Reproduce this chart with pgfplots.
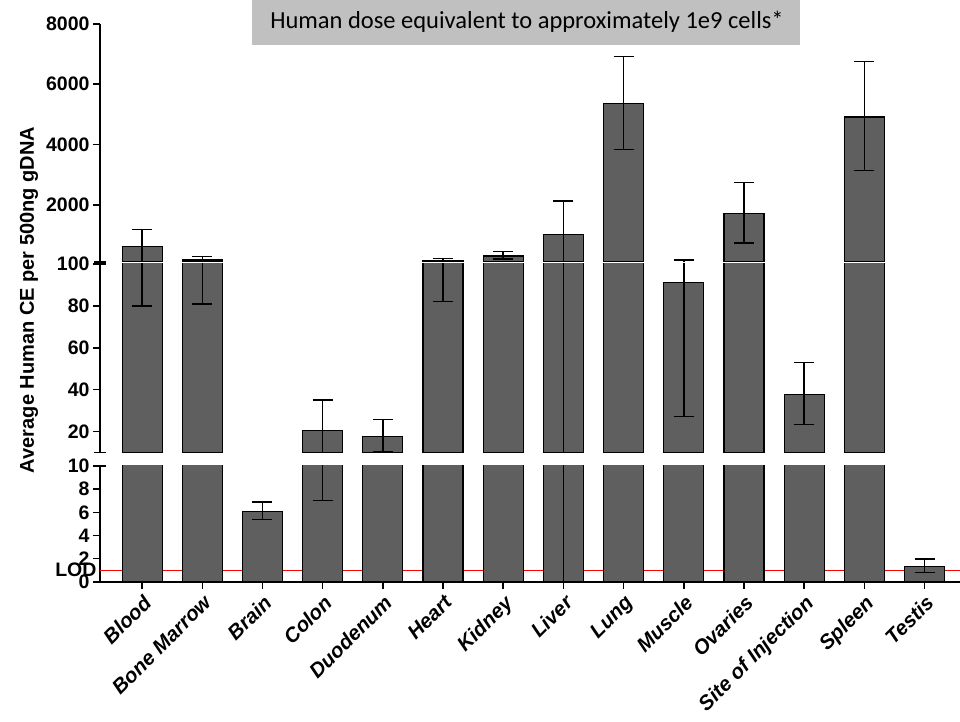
\documentclass[border=0pt]{standalone}
\usepackage{pgfplots}
\usepackage{pgfplotstable}
\pgfplotsset{compat=1.18}
\usepackage{fontspec}
\setmainfont{Liberation Sans}
\newfontfamily\carlito{Carlito}
\definecolor{barcol}{RGB}{95,95,95}
\definecolor{boxcol}{RGB}{192,192,192}

\pgfplotstableread{
x y ep em
0 608 578 528
1 166 110 85
2 6.1 0.8 0.7
3 20.5 14.6 13.5
4 17.8 8.0 7.6
5 143 80 61
6 300 140 100
7 1006 1119 1200
8 5369 1547 1528
9 91 75 63.7
10 1703 1043 972
11 37.7 15.2 14.3
12 4914 1836 1784
13 1.31 0.67 0.52
}\data

% \segplot{clamp lo}{clamp hi}{axis ymin}
\newcommand{\segplot}[3]{%
\addplot[barplot, restrict y to domain=#3:1e6] table[x=x,
  y expr={min(\thisrow{y},#2)}] {\data};
\addplot[errplot] table[x=x,
  y expr={min(max(\thisrow{y},#1),#2)},
  y error plus expr={min(max(\thisrow{y}+\thisrow{ep},#1),#2)-min(max(\thisrow{y},#1),#2)},
  y error minus expr={min(max(\thisrow{y},#1),#2)-min(max(\thisrow{y}-\thisrow{em},#1),#2)}] {\data};}

\pgfplotsset{
  brk/.style={
    width=860pt, scale only axis, anchor=south west,
    xmin=-0.7, xmax=13.59,
    axis y line*=left,
    axis line style={line width=1.6pt, black},
    tick style={line width=1.5pt, black},
    tick align=outside, major tick length=7pt,
    /pgf/number format/assume math mode=true,
    ticklabel style={font=\fontsize{19.5}{20}\selectfont\bfseries},
    clip=true,
  },
  barplot/.style={
    ybar, bar width=40pt, fill=barcol, draw=black, line width=1.2pt, forget plot,
  },
  errplot/.style={
    draw=none, mark=none, forget plot,
    error bars/.cd, y dir=both, y explicit,
    error bar style={draw=black, line width=1.5pt},
    error mark options={draw=black, rotate=90, mark size=10pt, line width=1.5pt},
  },
}

\begin{document}
\begin{tikzpicture}
\useasboundingbox (0pt,0pt) rectangle (960pt,722pt);

% bottom segment 0-10
\begin{axis}[brk, at={(100pt,140.2pt)}, height=115.8pt,
  ymin=0, ymax=10,
  axis x line*=bottom,
  xtick={0,...,13},
  xticklabels={Blood,Bone Marrow,Brain,Colon,Duodenum,Heart,Kidney,Liver,Lung,Muscle,Ovaries,Site of Injection,Spleen,Testis},
  xticklabel style={rotate=45, anchor=north east, font=\fontsize{20.5}{21}\selectfont\bfseries\itshape},
  ytick={0,2,4,6,8,10},
  yticklabels={0,2,4,6,8,10},
  extra y ticks={1},
  extra y tick labels={LOD},
  extra y tick style={major tick length=0pt},
]
\addplot[red, line width=1pt, forget plot] coordinates {(-0.7,1) (13.59,1)};
\segplot{-5}{15}{-1}
\end{axis}

% middle segment 10-100
\begin{axis}[brk, at={(100pt,269.5pt)}, height=188.5pt,
  ymin=10, ymax=100,
  axis x line=none,
  ytick={20,40,60,80,100},
  yticklabels={20,40,60,80,100},
  extra y ticks={10},
  extra y tick labels={},
  extra y tick style={tick align=center, major tick length=12pt},
]
\segplot{0}{200}{10}
\end{axis}

% top segment 100-8000
\begin{axis}[brk, at={(100pt,460pt)}, height=238pt,
  ymin=100, ymax=8000,
  axis x line=none,
  ytick={2000,4000,6000,8000},
  yticklabels={2000,4000,6000,8000},
  extra y ticks={100},
  extra y tick labels={},
  extra y tick style={tick align=center, major tick length=12pt},
]
\segplot{-2000}{9000}{100}
\end{axis}

% break marks
\draw[line width=1.5pt] (94pt,256pt) -- (106pt,256pt);
\draw[line width=1.5pt] (94pt,458pt) -- (106pt,458pt);

% y label
\node[rotate=90, font=\fontsize{20}{22}\selectfont\bfseries] at (29pt,422pt) {Average Human CE per 500ng gDNA};

% title box
\fill[boxcol] (252pt,677pt) rectangle (800pt,722pt);
\node[font=\carlito\fontsize{24.5}{27}\selectfont] at (527pt,700pt) {Human dose equivalent to approximately 1e9 cells*};
\end{tikzpicture}
\end{document}
